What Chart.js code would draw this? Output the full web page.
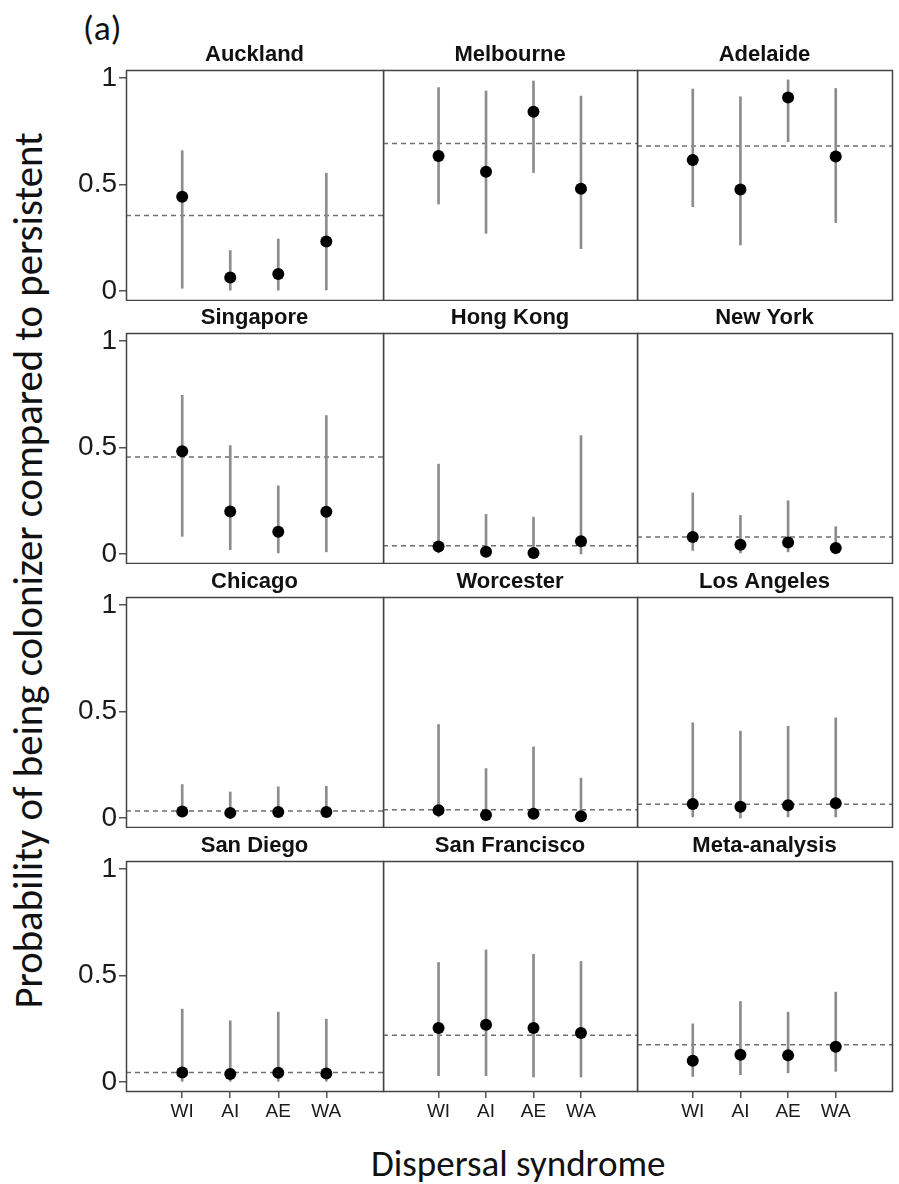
<!DOCTYPE html>
<html>
<head>
<meta charset="utf-8">
<script src="https://cdn.jsdelivr.net/npm/chart.js@4.4.1/dist/chart.umd.min.js"></script>
<style>
  body { margin: 0; background: #fff; }
  #wrap { position: relative; width: 899px; height: 1184px; overflow: hidden; }
  #wrap canvas { position: absolute; }
  .lbl { position: absolute; white-space: nowrap; line-height: 1; color: #111;
         font-family: Carlito, Lato, "Open Sans", sans-serif; }
</style>
</head>
<body>
<div id="wrap">
  <div class="lbl" id="tag">(a)</div>
  <div class="lbl" id="ytitle">Probability of being colonizer compared to persistent</div>
  <div class="lbl" id="xtitle">Dispersal syndrome</div>
</div>
<script>
// panel data
const cities = ['Auckland', 'Melbourne', 'Adelaide',
                'Singapore', 'Hong Kong', 'New York',
                'Chicago', 'Worcester', 'Los Angeles',
                'San Diego', 'San Francisco', 'Meta-analysis'];
const syndromes = ['WI', 'AI', 'AE', 'WA'];

// point estimates per city (WI, AI, AE, WA)
const meanProb = [
  [0.443, 0.063, 0.080, 0.232],
  [0.634, 0.560, 0.842, 0.480],
  [0.615, 0.477, 0.908, 0.631],
  [0.482, 0.200, 0.104, 0.198],
  [0.035, 0.010, 0.005, 0.060],
  [0.080, 0.043, 0.054, 0.028],
  [0.031, 0.024, 0.028, 0.028],
  [0.036, 0.014, 0.020, 0.008],
  [0.066, 0.053, 0.060, 0.069],
  [0.045, 0.037, 0.043, 0.040],
  [0.253, 0.269, 0.253, 0.230],
  [0.100, 0.128, 0.125, 0.166]
];
const lowerCI = [
  [0.013, 0.000, 0.000, 0.005],
  [0.408, 0.271, 0.556, 0.199],
  [0.396, 0.216, 0.701, 0.321],
  [0.083, 0.020, 0.005, 0.010],
  [0.005, 0.000, 0.000, 0.000],
  [0.017, 0.005, 0.010, 0.000],
  [0.008, 0.005, 0.005, 0.005],
  [0.005, 0.000, 0.000, 0.000],
  [0.005, 0.000, 0.005, 0.005],
  [0.003, 0.000, 0.000, 0.000],
  [0.030, 0.030, 0.023, 0.023],
  [0.026, 0.034, 0.043, 0.050]
];
const upperCI = [
  [0.659, 0.190, 0.244, 0.553],
  [0.955, 0.939, 0.986, 0.915],
  [0.948, 0.912, 0.991, 0.951],
  [0.745, 0.509, 0.320, 0.650],
  [0.422, 0.186, 0.173, 0.556],
  [0.287, 0.181, 0.250, 0.128],
  [0.157, 0.122, 0.146, 0.149],
  [0.439, 0.232, 0.334, 0.187],
  [0.447, 0.408, 0.431, 0.470],
  [0.342, 0.287, 0.328, 0.295],
  [0.561, 0.620, 0.600, 0.566],
  [0.273, 0.378, 0.328, 0.422]
];
// dashed reference line per city
const overallProb = [0.355, 0.693, 0.681, 0.455, 0.039, 0.080,
                     0.033, 0.039, 0.064, 0.045, 0.219, 0.175];

const yTicks = [0, 0.5, 1];
const yTickLabels = ['0', '0.5', '1'];

// layout of the 4 x 3 grid (panel boxes)
const colLeft = [126, 383, 637];
const colWidth = [257, 254, 255];
const rowTop = [70, 333, 597, 861];
const boxH = 230;
const padTop = 40;
const xMin = -0.17, xMax = 5.18;
const yMin = -0.0423, yMax = 1.0376;

// box border + panel title
const panelDeco = {
  id: 'panelDeco',
  afterDraw(chart, args, opts) {
    const a = chart.chartArea;
    const ctx = chart.ctx;
    ctx.save();
    ctx.strokeStyle = '#444';
    ctx.lineWidth = 1.5;
    ctx.strokeRect(a.left + 0.5, a.top + 0.5, a.right - a.left, a.bottom - a.top);
    ctx.fillStyle = '#111';
    ctx.font = 'bold 22px "Liberation Sans", Arial, sans-serif';
    ctx.textAlign = 'center';
    ctx.textBaseline = 'middle';
    ctx.fillText(opts.text, (a.left + a.right) / 2, a.top - 15);
    ctx.restore();
  }
};

const wrap = document.getElementById('wrap');

cities.forEach((city, i) => {
  const r = Math.floor(i / 3), c = i % 3;
  const firstCol = c === 0;
  const lastRow = r === 3;
  const padL = firstCol ? 126 : 0;
  const axisH = lastRow ? 34 : 0;
  const w = padL + colWidth[c] + 2;
  const h = padTop + boxH + axisH + 1;

  const canvas = document.createElement('canvas');
  canvas.width = w;
  canvas.height = h;
  canvas.style.width = w + 'px';
  canvas.style.height = h + 'px';
  canvas.style.left = (colLeft[c] - padL) + 'px';
  canvas.style.top = (rowTop[r] - padTop) + 'px';
  wrap.appendChild(canvas);

  new Chart(canvas.getContext('2d'), {
    type: 'bar',
    data: {
      datasets: [
        {
          type: 'line',
          data: [{ x: xMin, y: overallProb[i] }, { x: xMax, y: overallProb[i] }],
          borderColor: '#6f6f6f',
          borderWidth: 1.5,
          borderDash: [5, 4],
          pointRadius: 0,
          order: 3
        },
        {
          type: 'bar',
          data: syndromes.map((s, j) => ({ x: j + 1, y: [lowerCI[i][j], upperCI[i][j]] })),
          backgroundColor: '#8c8c8c',
          barThickness: 2,
          order: 2
        },
        {
          type: 'line',
          data: syndromes.map((s, j) => ({ x: j + 1, y: meanProb[i][j] })),
          showLine: false,
          pointRadius: 6,
          pointBackgroundColor: '#000',
          pointBorderWidth: 0,
          order: 1
        }
      ]
    },
    options: {
      responsive: false,
      animation: false,
      events: [],
      layout: { autoPadding: false, padding: { left: 0, top: padTop, right: 2, bottom: 1 } },
      plugins: {
        legend: { display: false },
        tooltip: { enabled: false },
        panelDeco: { text: city }
      },
      scales: {
        x: {
          type: 'linear',
          min: xMin,
          max: xMax,
          offset: false,
          display: lastRow,
          afterBuildTicks: axis => { axis.ticks = syndromes.map((s, j) => ({ value: j + 1 })); },
          afterFit: axis => {
            axis.height = axisH;
            axis.paddingLeft = 0;
            axis.paddingRight = 0;
          },
          border: { display: false },
          grid: { offset: false, drawOnChartArea: false, drawTicks: true, tickLength: 7, color: '#555', lineWidth: 1.5 },
          ticks: {
            autoSkip: false,
            maxRotation: 0,
            padding: 2,
            color: '#1a1a1a',
            font: { family: '"Liberation Sans", Arial, sans-serif', size: 19 },
            callback: (v, k) => syndromes[k]
          }
        },
        y: {
          min: yMin,
          max: yMax,
          display: firstCol,
          afterBuildTicks: axis => { axis.ticks = yTicks.map(v => ({ value: v })); },
          afterFit: axis => {
            axis.width = padL;
            axis.paddingTop = 0;
            axis.paddingBottom = 0;
          },
          border: { display: false },
          grid: { drawOnChartArea: false, drawTicks: true, tickLength: 7, color: '#555', lineWidth: 1.5 },
          ticks: {
            padding: 2,
            color: '#1a1a1a',
            font: { family: '"Liberation Sans", Arial, sans-serif', size: 28 },
            callback: (v, k) => yTickLabels[k]
          }
        }
      }
    },
    plugins: [panelDeco]
  });
});

// outer labels, sized to the widths measured on the figure
function placeText(id, cx, cy, targetW, rotate) {
  const el = document.getElementById(id);
  el.style.fontSize = '30px';
  const w0 = el.offsetWidth;
  el.style.fontSize = (30 * targetW / w0) + 'px';
  const w = el.offsetWidth, h = el.offsetHeight;
  el.style.left = (cx - w / 2) + 'px';
  el.style.top = (cy - h / 2) + 'px';
  if (rotate) el.style.transform = 'rotate(-90deg)';
}
placeText('tag', 102, 28, 39, false);
placeText('ytitle', 28, 570, 876, true);
placeText('xtitle', 518, 1163, 294, false);
</script>
</body>
</html>
